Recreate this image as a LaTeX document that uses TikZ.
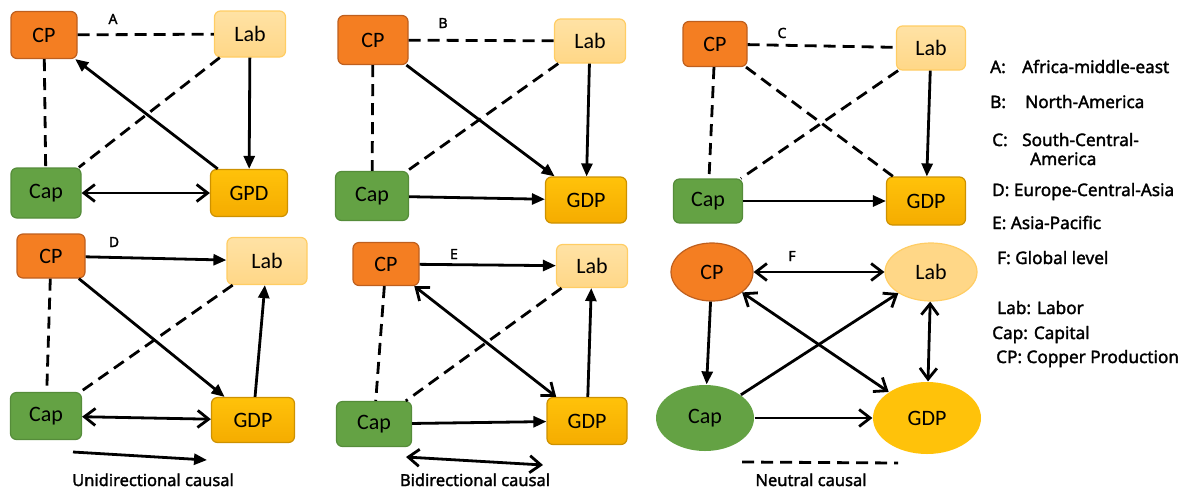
\documentclass[tikz,border=0pt]{standalone}
\usepackage{fontspec}
\setmainfont{Noto Sans}
\newfontfamily\nodefont{Carlito}
\newfontfamily\legfont[FakeBold=1.8]{Noto Sans}
\usetikzlibrary{arrows.meta,shapes.geometric}
\definecolor{cpfill}{RGB}{244,126,34}
\definecolor{cpdraw}{RGB}{190,95,30}
\definecolor{labfill}{RGB}{255,215,135}
\definecolor{labtop}{RGB}{255,226,165}
\definecolor{labdraw}{RGB}{255,205,100}
\definecolor{capfill}{RGB}{100,162,68}
\definecolor{capdraw}{RGB}{85,140,58}
\definecolor{gdpfill}{RGB}{255,194,10}
\definecolor{gdpbot}{RGB}{245,172,0}
\definecolor{gdpdraw}{RGB}{205,145,0}
\tikzset{
  box/.style={rounded corners=6pt, line width=1.2pt, inner sep=0pt,
    font=\nodefont\fontsize{22}{26}\selectfont},
  cpbox/.style={box, fill=cpfill, draw=cpdraw},
  labbox/.style={box, top color=labtop, bottom color=labfill, draw=labdraw},
  capbox/.style={box, fill=capfill, draw=capdraw},
  gdpbox/.style={box, top color=gdpfill, bottom color=gdpbot, draw=gdpdraw},
  ell/.style={ellipse, inner sep=0pt, line width=1.2pt,
    font=\nodefont\fontsize{22}{26}\selectfont},
  lbl/.style={inner sep=0pt, font=\legfont\fontsize{14}{16}\selectfont},
  leg/.style={inner sep=0pt, anchor=base west, font=\legfont\fontsize{17.2}{19}\selectfont},
  captext/.style={inner sep=0pt, anchor=base, font=\legfont\fontsize{16.5}{19}\selectfont},
  ln/.style={line width=2.8pt},
  dsh/.style={ln, dash pattern=on 12pt off 7pt},
  fa/.style={ln, -{Triangle[length=13pt,width=11pt]}},
  oa/.style={ln, -{Straight Barb[length=11pt,width=17pt]}},
  boa/.style={ln, {Straight Barb[length=11pt,width=17pt]}-{Straight Barb[length=11pt,width=17pt]}}
}
\begin{document}
\begin{tikzpicture}[x=1pt,y=-1pt]
\useasboundingbox (0,0) rectangle (1182,491);
% ---------- A
\node[cpbox, minimum width=66pt, minimum height=47pt] (cpA) at (44,35) {CP};
\node[labbox, minimum width=71pt, minimum height=46pt] (labA) at (250,34) {Lab};
\node[capbox, minimum width=70pt, minimum height=50pt] (capA) at (46,193) {Cap};
\node[gdpbox, minimum width=77pt, minimum height=47pt] (gdpA) at (249,193) {GPD};
\node[lbl] (lA) at (113,19) {A};
\draw[dsh] (cpA) -- (labA);
\draw[dsh] (cpA) -- (capA);
\draw[dsh] (labA) -- (capA);
\draw[fa] (gdpA) -- (cpA);
\draw[fa] (labA) -- (gdpA);
\draw[boa] (capA) -- (gdpA);
% ---------- B
\node[cpbox, minimum width=70pt, minimum height=49pt] (cpB) at (373,40) {CP};
\node[labbox, minimum width=71pt, minimum height=44pt] (labB) at (590,41) {Lab};
\node[capbox, minimum width=73pt, minimum height=49pt] (capB) at (372,196) {Cap};
\node[gdpbox, minimum width=81pt, minimum height=46pt] (gdpB) at (586,200) {GDP};
\node[lbl] (lB) at (443,23) {B};
\draw[dsh] (cpB) -- (labB);
\draw[dsh] (cpB) -- (capB);
\draw[dsh] (labB) -- (capB);
\draw[fa] (cpB) -- (gdpB);
\draw[fa] (labB) -- (gdpB);
\draw[fa] (capB) -- (gdpB);
% ---------- C
\node[cpbox, minimum width=64pt, minimum height=45pt] (cpC) at (715,44) {CP};
\node[labbox, minimum width=69pt, minimum height=44pt] (labC) at (931,48) {Lab};
\node[capbox, minimum width=69pt, minimum height=44pt] (capC) at (708,201) {Cap};
\node[gdpbox, minimum width=79pt, minimum height=48pt] (gdpC) at (926,201) {GDP};
\node[lbl] (lC) at (782,33) {C};
\draw[dsh] (cpC) -- (labC);
\draw[dsh] (cpC) -- (capC);
\draw[dsh] (labC) -- (capC);
\draw[dsh] (cpC) -- (gdpC);
\draw[fa] (labC) -- (gdpC);
\draw[fa] (capC) -- (gdpC);
% ---------- D
\node[cpbox, minimum width=68pt, minimum height=44pt] (cpD) at (51,256) {CP};
\node[labbox, minimum width=80pt, minimum height=47pt] (labD) at (267,261) {Lab};
\node[capbox, minimum width=71pt, minimum height=47pt] (capD) at (46,416) {Cap};
\node[gdpbox, minimum width=83pt, minimum height=45pt] (gdpD) at (253,420) {GDP};
\node[lbl] (lD) at (114,242) {D};
\draw[fa] (cpD) -- (labD);
\draw[dsh] (cpD) -- (capD);
\draw[dsh] (labD) -- (capD);
\draw[fa] (cpD) -- (gdpD);
\draw[fa] (gdpD) -- (labD);
\draw[boa] (capD) -- (gdpD);
% ---------- E
\node[cpbox, minimum width=66pt, minimum height=43pt] (cpE) at (386,264) {CP};
\node[labbox, minimum width=71pt, minimum height=43pt] (labE) at (592,266) {Lab};
\node[capbox, minimum width=75pt, minimum height=45pt] (capE) at (374,424) {Cap};
\node[gdpbox, minimum width=80pt, minimum height=47pt] (gdpE) at (587,421) {GDP};
\node[lbl] (lE) at (454,254) {E};
\draw[fa] (cpE) -- (labE);
\draw[dsh] (cpE) -- (capE);
\draw[dsh] (labE) -- (capE);
\draw[boa] (cpE) -- (gdpE);
\draw[fa] (gdpE) -- (labE);
\draw[fa] (capE) -- (gdpE);
% ---------- F
\node[ell, fill=cpfill, draw=cpdraw, minimum width=82pt, minimum height=58pt] (cpF) at (712,272) {CP};
\node[ell, fill=labfill, draw=labdraw, minimum width=92pt, minimum height=58pt] (labF) at (931,272) {Lab};
\node[ell, fill=capfill, minimum width=98pt, minimum height=66pt] (capF) at (705,418) {Cap};
\node[ell, fill=gdpfill, minimum width=108pt, minimum height=72pt] (gdpF) at (927,418) {GDP};
\node[lbl] (lF) at (792,256) {F};
\draw[boa] (cpF) -- (labF);
\draw[fa] (cpF) -- (capF);
\draw[oa] (capF) -- (labF);
\draw[boa] (cpF) -- (gdpF);
\draw[boa] (labF) -- (gdpF);
\draw[oa] (capF) -- (gdpF);
% ---------- bottom legend
\coordinate (u1) at (73,452); \coordinate (u2) at (207,460);
\draw[fa] (u1) -- (u2);
\node[captext] (tu) at (153,486) {Unidirectional causal};
\coordinate (b1) at (406,457); \coordinate (b2) at (543,465);
\draw[boa] (b1) -- (b2);
\node[captext] (tb) at (475,486) {Bidirectional causal};
\coordinate (n1) at (742,462); \coordinate (n2) at (898,463);
\draw[dsh] (n1) -- (n2);
\node[captext] (tn) at (811,486) {Neutral causal};
% ---------- right legend
\node[leg] (ka) at (990,73) {A:};
\node[leg] (kat) at (1022,73) {Africa-middle-east};
\node[leg] (kb) at (990,108) {B:};
\node[leg] (kbt) at (1025,108) {North-America};
\node[leg] (kc) at (992,146) {C:};
\node[leg] (kct) at (1022,146) {South-Central-};
\node[leg] (kct2) at (1030,165) {America};
\node[leg] (kd) at (992,196) {D: Europe-Central-Asia};
\node[leg] (ke) at (992,229) {E: Asia-Pacific};
\node[leg] (kf) at (997,264) {F: Global level};
\node[leg] (kl) at (997,314) {Lab: Labor};
\node[leg] (kk) at (992,339) {Cap: Capital};
\node[leg] (kp) at (996,363) {CP: Copper Production};
\end{tikzpicture}
\end{document}
